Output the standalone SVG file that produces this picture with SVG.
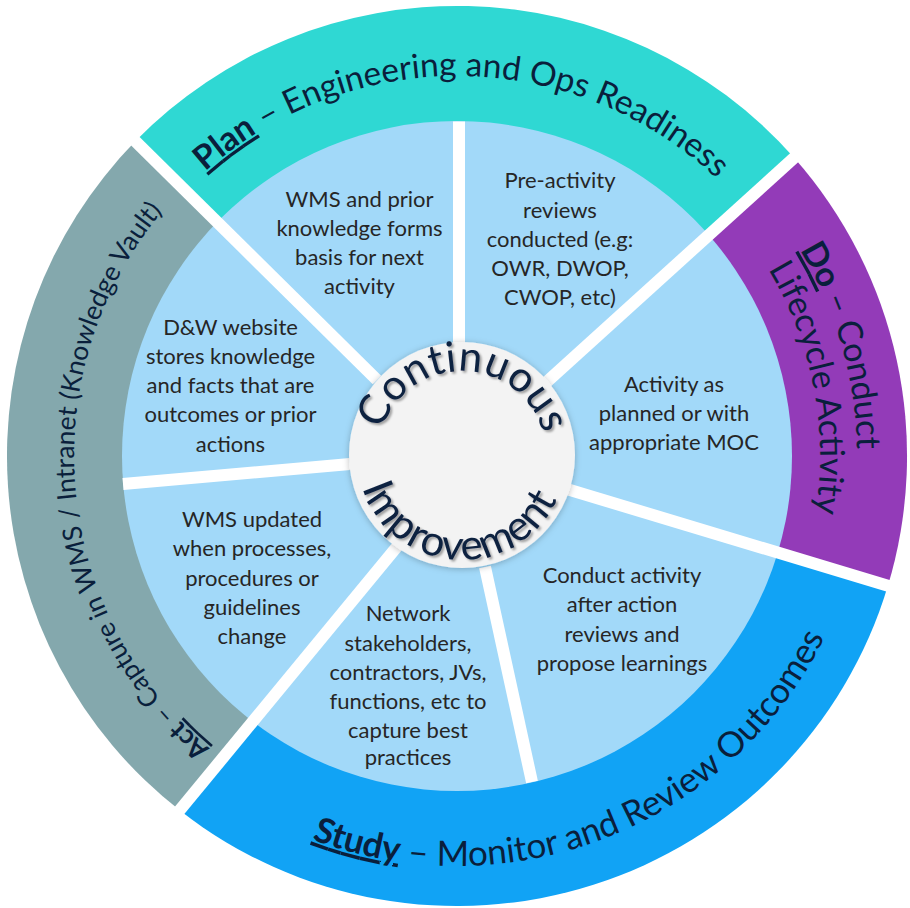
<svg xmlns="http://www.w3.org/2000/svg" width="910" height="908" viewBox="0 0 910 908">
<defs>
<style>
.sec{font-family:Lato,"Noto Sans",sans-serif;font-size:22px;fill:#262626;text-anchor:middle}
.ring{font-family:Lato,"Noto Sans",sans-serif;fill:#0a1f3c}
.b{font-weight:700;text-decoration:underline}
.dv{stroke:#fff;stroke-width:12;fill:none}
.ci{font-family:Lato,"Noto Sans",sans-serif;font-size:42px;letter-spacing:0.5px;fill:#0d2040}
</style>
<filter id="sh" x="-20%" y="-20%" width="140%" height="140%"><feDropShadow dx="0" dy="1" stdDeviation="3" flood-color="#000" flood-opacity="0.25"/></filter>
<filter id="ts" x="-10%" y="-10%" width="120%" height="120%"><feDropShadow dx="2" dy="2" stdDeviation="1.2" flood-color="#000" flood-opacity="0.35"/></filter>
<path id="pPlan" d="M130.6 261.4 A380 380 0 0 1 788.7 270.6"/>
<path id="pDo1" d="M799.9 250 A400 400 0 0 1 803.4 656"/>
<path id="pDo2" d="M768.2 269.1 A363 363 0 0 1 771.4 637.5"/>
<path id="pStudy" d="M138.4 714 A410 410 0 0 0 866 427.4"/>
<path id="pAct" d="M357.9 825.9 A383 383 0 0 1 295.1 108.9"/>
<path id="pCont" d="M378.52 445.64 A84 84 0 0 1 545.83 449.73"/>
<path id="pImp" d="M357.05 458.12 A105 105 0 0 0 565.9 470.16"/>
</defs>

<g id="plan">
<path d="M457 456 L135.5 141.1 A450 450 0 0 1 794.1 157.8 Z" fill="#2fd8d3"/>
</g>
<g id="do">
<path d="M457 456 L794.1 157.8 A450 450 0 0 1 887.8 586.1 Z" fill="#933bb8"/>
</g>
<g id="study">
<path d="M457 456 L887.8 586.1 A450 450 0 0 1 180.6 811.1 Z" fill="#11a3f5"/>
</g>
<g id="act">
<path d="M457 456 L180.6 811.1 A450 450 0 0 1 135.5 141.1 Z" fill="#84a8ad"/>
</g>

<circle id="inner-disk" cx="457" cy="456" r="335" fill="#a2d9f9"/>

<g id="sec-1" class="sec">
<text x="359.5" y="207">WMS and prior</text>
<text x="359.5" y="236">knowledge forms</text>
<text x="359.5" y="265">basis for next</text>
<text x="359.5" y="294">activity</text>
</g>
<g id="sec-2" class="sec">
<text x="560" y="188">Pre-activity</text>
<text x="560" y="218">reviews</text>
<text x="560" y="247">conducted (e.g:</text>
<text x="560" y="276">OWR, DWOP,</text>
<text x="560" y="305">CWOP, etc)</text>
</g>
<g id="sec-3" class="sec">
<text x="674" y="392">Activity as</text>
<text x="674" y="421">planned or with</text>
<text x="674" y="450">appropriate MOC</text>
</g>
<g id="sec-4" class="sec">
<text x="622" y="583">Conduct activity</text>
<text x="622" y="612">after action</text>
<text x="622" y="642">reviews and</text>
<text x="622" y="671">propose learnings</text>
</g>
<g id="sec-5" class="sec">
<text x="408" y="621">Network</text>
<text x="408" y="651">stakeholders,</text>
<text x="408" y="680">contractors, JVs,</text>
<text x="408" y="709">functions, etc to</text>
<text x="408" y="738">capture best</text>
<text x="408" y="765">practices</text>
</g>
<g id="sec-6" class="sec">
<text x="252" y="527">WMS updated</text>
<text x="252" y="556">when processes,</text>
<text x="252" y="586">procedures or</text>
<text x="252" y="615">guidelines</text>
<text x="252" y="644">change</text>
</g>
<g id="sec-7" class="sec">
<text x="230.5" y="335">D&amp;W website</text>
<text x="230.5" y="364">stores knowledge</text>
<text x="230.5" y="393">and facts that are</text>
<text x="230.5" y="422">outcomes or prior</text>
<text x="230.5" y="452">actions</text>
</g>

<g id="connectors">
<path class="dv" d="M459 345 L459 121.5"/>
<path class="dv" d="M540 388 L806 147"/>
<path class="dv" d="M560 487 L902 590"/>
<path class="dv" d="M485 567 L532 782"/>
<path class="dv" d="M400 543 L170 822"/>
<path class="dv" d="M350 464 L123 484"/>
<path class="dv" d="M377 380 L125 131"/>
</g>

<g id="center">
<circle cx="462" cy="455" r="113" fill="#f3f3f3" filter="url(#sh)"/>
<g filter="url(#ts)">
<text class="ci"><textPath href="#pCont" startOffset="50%" text-anchor="middle">Continuous</textPath></text>
<text class="ci"><textPath href="#pImp" startOffset="50%" text-anchor="middle">Improvement</textPath></text>
</g>
</g>

<g id="plan-label">
<text class="ring" font-size="33.5"><textPath href="#pPlan" startOffset="50%" text-anchor="middle"><tspan class="b">Plan</tspan> – Engineering and Ops Readiness</textPath></text>
</g>
<g id="do-label">
<text class="ring" font-size="34"><textPath href="#pDo1"><tspan class="b">Do</tspan> – Conduct</textPath></text>
<text class="ring" font-size="34"><textPath href="#pDo2">Lifecycle Activity</textPath></text>
</g>
<g id="study-label">
<text class="ring" font-size="35"><textPath href="#pStudy" startOffset="50%" text-anchor="middle"><tspan class="b">Study</tspan> – Monitor and Review Outcomes</textPath></text>
</g>
<g id="act-label">
<text class="ring" font-size="26.5"><textPath href="#pAct" startOffset="50%" text-anchor="middle"><tspan class="b">Act</tspan> – Capture in WMS / Intranet (Knowledge Vault)</textPath></text>
</g>
</svg>
